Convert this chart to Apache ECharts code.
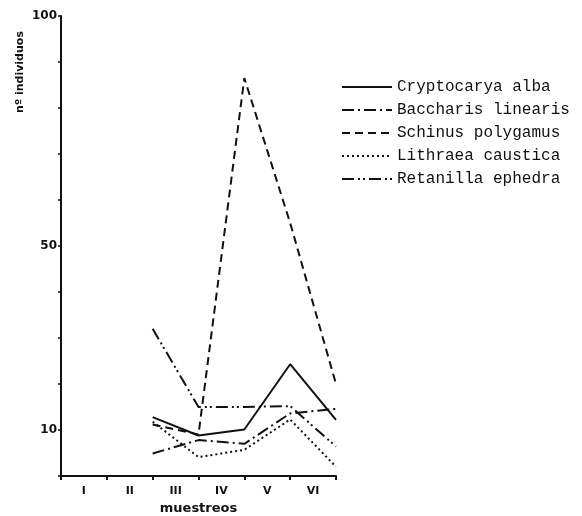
<!DOCTYPE html>
<html><head><meta charset="utf-8">
<script src="https://cdn.jsdelivr.net/npm/echarts@6/dist/echarts.min.js"></script>
<style>html,body{margin:0;padding:0;background:#fff}#c{width:582px;height:516px}</style>
</head><body><div id="c"></div>
<script>
// Sampling categories (labels sit between ticks; samples are drawn at the tick marks)
const categories = ['I', 'II', 'III', 'IV', 'V', 'VI'];
const samplePositions = [2, 3, 4, 5, 6];
const yTickLabels = [10, 50, 100];

// Number of individuals per species
const cryptocarya = [12.8, 8.8, 10.1, 24.3, 12.2];
const baccharis   = [4.9, 7.8, 7.0, 13.6, 14.6];
const schinus     = [11.2, 9.0, 86.5, 55, 20];
const lithraea    = [11.8, 4.1, 5.7, 12.3, 2.0];
const retanilla   = [32, 15, 15, 15.2, 6.4];

const speciesNames = ['Cryptocarya alba', 'Baccharis linearis', 'Schinus polygamus', 'Lithraea caustica', 'Retanilla ephedra'];
const speciesValues = [cryptocarya, baccharis, schinus, lithraea, retanilla];
const dashTypes = ['solid', [12, 4, 2, 4], [8, 5], [2, 3], [12, 4, 2, 3, 2, 4]];

const ink = '#111';
const chart = echarts.init(document.getElementById('c'), null, {renderer: 'canvas'});
chart.setOption({
  animation: false,
  backgroundColor: '#fff',
  grid: {left: 61, right: 246, top: 16, bottom: 40, containLabel: false, outerBoundsMode: 'none'},
  legend: {
    orient: 'vertical', left: 341, top: 79, padding: 0,
    itemWidth: 50, itemHeight: 14, itemGap: 7,
    data: speciesNames,
    itemStyle: {opacity: 0},
    textStyle: {fontFamily: '"Liberation Mono", monospace', fontSize: 16, color: ink}
  },
  xAxis: [
    {
      type: 'value', min: 0, max: 6, interval: 1, position: 'bottom',
      axisLine: {show: true, lineStyle: {color: ink, width: 2}},
      axisTick: {show: true, length: 4, lineStyle: {color: ink, width: 2}},
      axisLabel: {show: false},
      splitLine: {show: false}
    },
    {
      type: 'category', data: categories, position: 'bottom', boundaryGap: true,
      axisLine: {show: false}, axisTick: {show: false},
      axisLabel: {color: ink, fontWeight: 'bold', fontSize: 11, fontFamily: '"DejaVu Sans", sans-serif', margin: 10},
      name: 'muestreos', nameLocation: 'middle', nameGap: 23,
      nameTextStyle: {color: ink, fontWeight: 'bold', fontSize: 13, fontFamily: '"DejaVu Sans", sans-serif'}
    }
  ],
  yAxis: {
    type: 'value', min: 0, max: 100, interval: 10,
    axisLine: {show: true, lineStyle: {color: ink, width: 2}},
    axisTick: {show: true, length: 3, lineStyle: {color: ink, width: 1.5}},
    axisLabel: {
      color: ink, fontWeight: 'bold', fontSize: 12, fontFamily: '"DejaVu Sans", sans-serif', margin: 4,
      formatter: v => yTickLabels.includes(v) ? String(v) : ''
    },
    splitLine: {show: false}
  },
  graphic: [{
    type: 'text', x: 20, y: 72, rotation: Math.PI / 2,
    style: {text: 'nº individuos', fill: ink, font: 'bold 11px "DejaVu Sans", sans-serif', align: 'center', verticalAlign: 'middle'}
  }],
  series: speciesNames.map((name, i) => ({
    name: name, type: 'line', xAxisIndex: 0, yAxisIndex: 0,
    symbol: 'none', showSymbol: false,
    data: samplePositions.map((x, k) => [x, speciesValues[i][k]]),
    lineStyle: {color: ink, width: 2, type: dashTypes[i]},
    itemStyle: {color: ink}
  }))
});
</script>
</body></html>
